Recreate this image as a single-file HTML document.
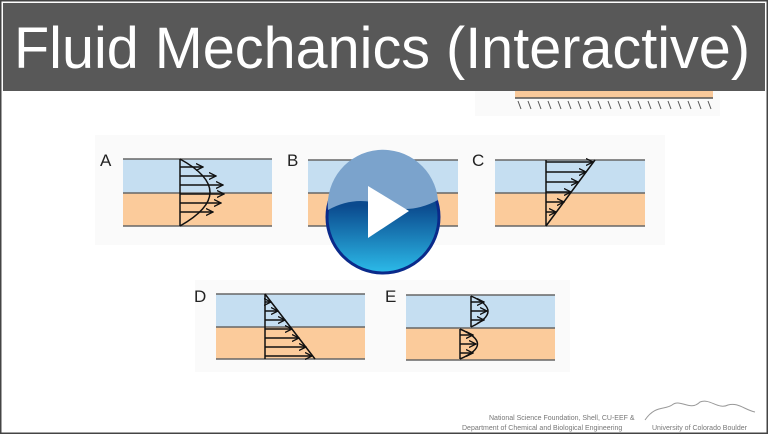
<!DOCTYPE html>
<html><head><style>
body{margin:0;width:768px;height:434px;overflow:hidden;background:#fff;font-family:"Liberation Sans",sans-serif}
</style></head><body>
<svg width="768" height="434" viewBox="0 0 768 434" xmlns="http://www.w3.org/2000/svg">
<defs>
<marker id="ah" markerWidth="8" markerHeight="8" refX="7" refY="4" orient="auto" markerUnits="userSpaceOnUse"><path d="M0,0.5 L7,4 L0,7.5" fill="none" stroke="#111" stroke-width="1.3"/></marker>
<linearGradient id="pb" x1="0" y1="0" x2="0" y2="1"><stop offset="0.4" stop-color="#0b4a8e"/><stop offset="1" stop-color="#2cbbe9"/></linearGradient>
</defs>
<rect x="0.5" y="0.5" width="767" height="433" fill="#fff" stroke="#444" stroke-width="2"/>
<rect x="95" y="135" width="570" height="110" fill="#fafafa"/>
<rect x="195" y="280" width="375" height="92" fill="#fafafa"/>
<rect x="475" y="90" width="245" height="26" fill="#fafafa"/>
<rect x="515" y="88" width="198" height="10" fill="#f9c99a"/>
<line x1="515" y1="98" x2="713" y2="98" stroke="#555" stroke-width="1.5"/>
<g stroke="#555" stroke-width="1">
<path d="M518,101l3,8M528,101l3,8M538,101l3,8M548,101l3,8M558,101l3,8M568,101l3,8M578,101l3,8M588,101l3,8M598,101l3,8M608,101l3,8M618,101l3,8M628,101l3,8M638,101l3,8M648,101l3,8M658,101l3,8M668,101l3,8M678,101l3,8M688,101l3,8M698,101l3,8M708,101l3,8"/>
</g>
<rect x="3" y="3" width="762" height="88" fill="#585858"/>
<text x="14" y="68" font-size="58" fill="#fff" textLength="736" lengthAdjust="spacingAndGlyphs">Fluid Mechanics (Interactive)</text>
<g font-size="17" fill="#222">
<text x="100" y="166">A</text><text x="287" y="166">B</text><text x="472" y="166">C</text>
<text x="194" y="302">D</text><text x="385" y="302">E</text>
</g>
<g>
<rect x="123" y="159" width="149" height="34" fill="#c5def1"/><rect x="123" y="193" width="149" height="33" fill="#fbcb9b"/>
<rect x="308" y="160" width="150" height="33" fill="#c5def1"/><rect x="308" y="193" width="150" height="33" fill="#fbcb9b"/>
<rect x="495" y="160" width="150" height="33" fill="#c5def1"/><rect x="495" y="193" width="150" height="33" fill="#fbcb9b"/>
<rect x="216" y="294" width="149" height="33" fill="#c5def1"/><rect x="216" y="327" width="149" height="32" fill="#fbcb9b"/>
<rect x="406" y="295" width="149" height="33" fill="#c5def1"/><rect x="406" y="328" width="149" height="32" fill="#fbcb9b"/>
</g>
<g stroke="#666" stroke-width="1.6">
<path d="M123,159H272M123,193H272M123,226H272"/>
<path d="M308,160H458M308,193H458M308,226H458"/>
<path d="M495,160H645M495,193H645M495,226H645"/>
<path d="M216,294H365M216,327H365M216,359H365"/>
<path d="M406,295H555M406,328H555M406,360H555"/>
</g>
<g stroke="#111" stroke-width="1.5" fill="none">
<path d="M180,159V226M180,159 Q240,192 180,226"/>
<g marker-end="url(#ah)">
<line x1="180" y1="167" x2="203" y2="167"/><line x1="180" y1="176" x2="216" y2="176"/><line x1="180" y1="185" x2="223" y2="185"/><line x1="180" y1="194" x2="224" y2="194"/><line x1="180" y1="203" x2="221" y2="203"/><line x1="180" y1="212" x2="213" y2="212"/>
</g>
<path d="M355,160V172"/>
<path d="M546,160V226M595,160L546,226"/>
<g marker-end="url(#ah)">
<line x1="546" y1="162" x2="593" y2="162"/><line x1="546" y1="172" x2="586" y2="172"/><line x1="546" y1="182" x2="578" y2="182"/><line x1="546" y1="192" x2="571" y2="192"/><line x1="546" y1="202" x2="564" y2="202"/><line x1="546" y1="212" x2="556" y2="212"/>
</g>
<path d="M265,294V359M265,294L315,359"/>
<g marker-end="url(#ah)">
<line x1="265" y1="302" x2="271" y2="302"/><line x1="265" y1="311" x2="278" y2="311"/><line x1="265" y1="320" x2="285" y2="320"/><line x1="265" y1="329" x2="292" y2="329"/><line x1="265" y1="338" x2="299" y2="338"/><line x1="265" y1="347" x2="306" y2="347"/><line x1="265" y1="356" x2="312" y2="356"/>
</g>
<path d="M471,296V327M471,296 Q505,311 471,327"/>
<g marker-end="url(#ah)">
<line x1="471" y1="302" x2="484" y2="302"/><line x1="471" y1="311" x2="487" y2="311"/><line x1="471" y1="320" x2="484" y2="320"/>
</g>
<path d="M460,329V359M460,329 Q495,344 460,359"/>
<g marker-end="url(#ah)">
<line x1="460" y1="335" x2="473" y2="335"/><line x1="460" y1="344" x2="476" y2="344"/><line x1="460" y1="353" x2="473" y2="353"/>
</g>
</g>
<circle cx="383" cy="217" r="56" fill="url(#pb)" stroke="#0a2a8a" stroke-width="3"/>
<path d="M328,210 Q355,195 383,205 Q410,215 438,200 A55,55 0 0 0 328,210Z" fill="#7ba3cc"/>
<path d="M368,186 L409,211 L368,238Z" fill="#fff"/>
<g font-size="7" fill="#777">
<text x="489" y="420">National Science Foundation, Shell, CU-EEF &amp;</text>
<text x="462" y="430">Department of Chemical and Biological Engineering</text>
<text x="652" y="430">University of Colorado Boulder</text>
</g>
<path d="M645,420 C655,405 665,410 672,405 C680,398 690,412 700,402 C710,398 718,410 728,405 C738,402 745,410 755,412" fill="none" stroke="#999" stroke-width="1"/>
</svg>
</body></html>
